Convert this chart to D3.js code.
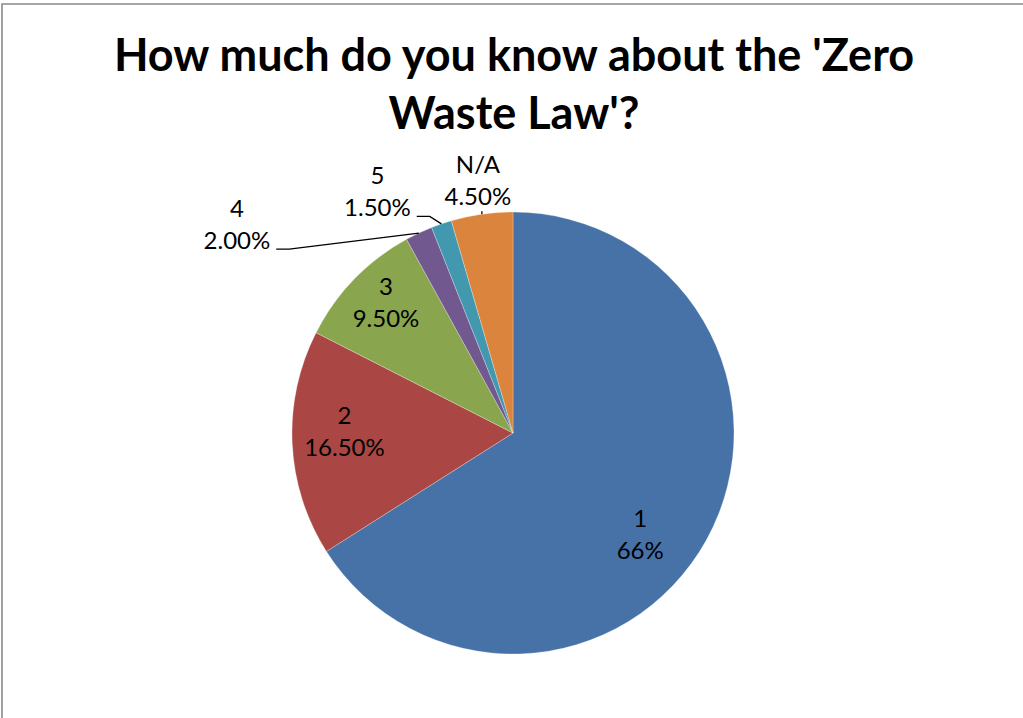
<!DOCTYPE html>
<html>
<head>
<meta charset="utf-8">
<script src="https://cdn.jsdelivr.net/npm/d3@7"></script>
<style>
  html, body { margin: 0; padding: 0; background: #ffffff; }
  svg { display: block; }
</style>
</head>
<body>
<script>
// ---- data ----
const categories = ["1", "2", "3", "4", "5", "N/A"];
const values = [66, 16.5, 9.5, 2.0, 1.5, 4.5];
const valueLabels = ["66%", "16.50%", "9.50%", "2.00%", "1.50%", "4.50%"];
const colors = ["#4672A8", "#AA4744", "#89A54E", "#71588F", "#4198AF", "#DB843D"];
const titleLines = ["How much do you know about the 'Zero", "Waste Law'?"];

// ---- layout (not data) ----
const W = 1023, H = 718;
const cx = 513, cy = 433, R = 221;
// inside labels: nudge from the arc centroid; outside labels: offset from outer arc midpoint
const labelPlacement = [
  { inside: true,  dx: -18, dy: 30 },
  { inside: true,  dx: -3,  dy: -1 },
  { inside: true,  dx: -8,  dy: -7 },
  { inside: false, dx: -182, dy: -0.5 },
  { inside: false, dx: -64, dy: -24 },
  { inside: false, dx: -4,  dy: -25 }
];
const font = "Lato, 'Open Sans', sans-serif";

const svg = d3.select("body").append("svg")
  .attr("width", W).attr("height", H);

svg.append("rect").attr("width", W).attr("height", H).attr("fill", "#fff");

// chart frame (right/bottom edges fall outside the view)
svg.append("path")
  .attr("d", `M2,${H + 5} L2,4 L${W + 5},4`)
  .attr("fill", "none")
  .attr("stroke", "#8a8a8a")
  .attr("stroke-width", 1.6);

// title
const title = svg.append("text")
  .attr("text-anchor", "middle")
  .attr("font-family", font)
  .attr("font-weight", "bold")
  .attr("font-size", 45)
  .attr("fill", "#000");
titleLines.forEach((t, i) => {
  title.append("tspan").attr("x", cx + 1).attr("y", 71 + i * 58).text(t);
});

// pie
const data = categories.map((c, i) => ({ cat: c, value: values[i], label: valueLabels[i], color: colors[i], place: labelPlacement[i] }));
const pie = d3.pie().value(d => d.value).sort(null);
const arcs = pie(data);
const arc = d3.arc().innerRadius(0).outerRadius(R);
const labelArc = d3.arc().innerRadius(R * 0.75).outerRadius(R * 0.75);
const outerArc = d3.arc().innerRadius(R).outerRadius(R);

const g = svg.append("g").attr("transform", `translate(${cx},${cy})`);

g.selectAll("path.slice").data(arcs).enter().append("path")
  .attr("class", "slice")
  .attr("d", arc)
  .attr("fill", d => d.data.color)
  .attr("stroke", "rgba(255,255,255,0.45)")
  .attr("stroke-width", 0.6);

const lineGap = 32;
arcs.forEach(a => {
  const p = a.data.place;
  let lx, ly;
  if (p.inside) {
    const c = labelArc.centroid(a);
    lx = c[0] + p.dx; ly = c[1] + p.dy;
  } else {
    const o = outerArc.centroid(a);
    lx = o[0] + p.dx; ly = o[1] + p.dy;
  }
  const t = g.append("text")
    .attr("text-anchor", "middle")
    .attr("font-family", font)
    .attr("font-size", 24)
    .attr("fill", "#000");
  t.append("tspan").attr("x", lx).attr("y", ly - lineGap / 2).text(a.data.cat);
  t.append("tspan").attr("x", lx).attr("y", ly + lineGap / 2).text(a.data.label);

  if (!p.inside) {
    const o = outerArc.centroid(a);
    const bb = t.node().getBBox();
    if (Math.abs(o[0] - lx) > 20) {
      const ex = bb.x + bb.width + 6;
      const ey = ly + lineGap / 2 + 0.5;
      g.append("polyline")
        .attr("points", [[ex, ey], [ex + 13, ey], [o[0], o[1]]].map(q => q.join(",")).join(" "))
        .attr("fill", "none").attr("stroke", "#000").attr("stroke-width", 1.3);
    } else {
      g.append("line")
        .attr("x1", o[0]).attr("y1", ly + lineGap / 2 + 6)
        .attr("x2", o[0]).attr("y2", o[1])
        .attr("stroke", "#000").attr("stroke-width", 1.3);
    }
  }
});
</script>
</body>
</html>
